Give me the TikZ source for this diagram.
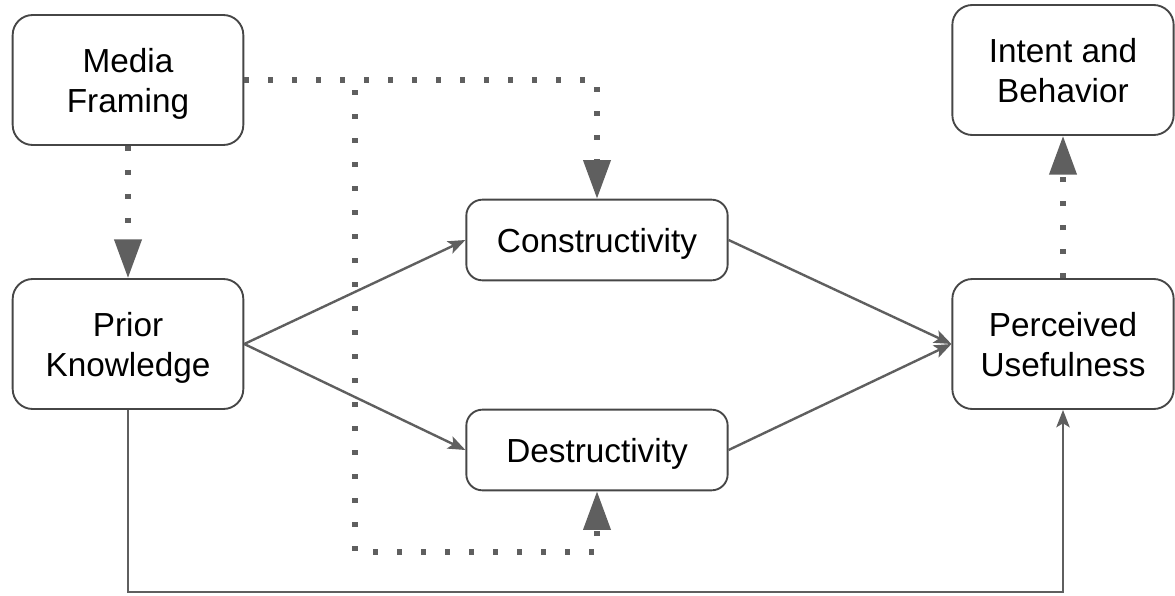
\documentclass[tikz,border=0pt]{standalone}
\usepackage{fontspec}
\setmainfont{Liberation Sans}
\usepackage{tikz}
\usetikzlibrary{arrows.meta}
\usetikzlibrary{shapes}

\definecolor{boxline}{RGB}{70,70,70}
\definecolor{linkline}{RGB}{95,95,95}

\tikzset{
  bigbox/.style={draw=boxline, line width=1.4pt, rounded corners=15pt, fill=white,
    minimum width=173pt, minimum height=97.5pt, align=center, text depth=0pt,
    font=\fontsize{25}{30}\selectfont},
  midbox/.style={bigbox, rounded corners=12pt, minimum width=196pt, minimum height=60.5pt},
  solidlink/.style={draw=linkline, line width=1.8pt, -{Stealth[length=13pt,width=10pt,inset=3pt]}},
  dotlink/.style={draw=linkline, line width=3.8pt, dash pattern=on 3.8pt off 14.2pt},
  dotarrow/.style={dotlink, -{Triangle[length=29pt,width=20pt]}}
}

\begin{document}
\begin{tikzpicture}[x=0.75pt,y=0.75pt,yscale=-1,xscale=1]
\useasboundingbox (0,0) rectangle (1175,596);

%Rounded Rect: media framing
\node[bigbox] (mf) at (128,80) {Media\\Framing};
%Rounded Rect: prior knowledge
\node[bigbox] (pk) at (128,344) {Prior\\Knowledge};
%Rounded Rect: constructivity
\node[midbox] (cons) at (597,240) {Constructivity};
%Rounded Rect: destructivity
\node[midbox] (des) at (597,450) {Destructivity};
%Rounded Rect: perceived usefulness
\node[bigbox, minimum width=166pt] (pu) at (1063,344) {Perceived\\Usefulness};
%Rounded Rect: intent and behavior
\node[bigbox, minimum width=166pt] (ib) at (1063,70) {Intent and\\Behavior};

%Connectors: solid
\draw[solidlink] (pk.east) -- (cons.west);
\draw[solidlink] (pk.east) -- (des.west);
\draw[solidlink] (cons.east) -- (pu.west);
\draw[solidlink] (des.east) -- (pu.west);
\coordinate (low) at (128,592);
\draw[solidlink] (pk.south) -- (low) -| (pu.south);

%Connectors: dotted
\draw[dotarrow] (mf.south) -- (pk.north);
\draw[dotarrow] (mf.east) -| (cons.north);
\coordinate (split) at (355,90);
\coordinate (corner) at (355,552);
\draw[dotarrow] (split) -- (corner) -| (des.south);
\draw[dotarrow] (pu.north) -- (ib.south);

\end{tikzpicture}
\end{document}
